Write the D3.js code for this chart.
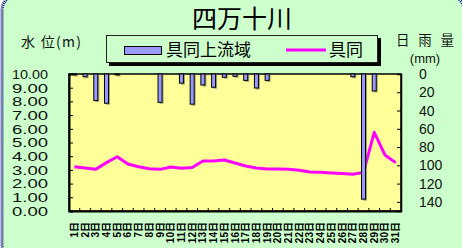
<!DOCTYPE html>
<html>
<head>
<meta charset="utf-8">
<script src="https://cdn.jsdelivr.net/npm/d3@7"></script>
<style>
  html, body { margin: 0; padding: 0; background: #fff; }
  svg { display: block; }
</style>
</head>
<body>
<div id="chart"></div>
<script>
// data
const days = ['1日', '2日', '3日', '4日', '5日', '6日', '7日', '8日', '9日', '10日',
  '11日', '12日', '13日', '14日', '15日', '16日', '17日', '18日', '19日', '20日',
  '21日', '22日', '23日', '24日', '25日', '26日', '27日', '28日', '29日', '30日', '31日'];
// 具同上流域 daily rainfall (mm)
const rain = [1, 3, 29, 32, 1, 0, 0, 0, 31, 0, 10, 33, 12, 14.5, 3.5, 2.5, 7, 15.3, 7, 0,
  0, 0, 0, 0, 0, 0, 3, 137, 18.6, 0, 0];
// 具同 water level (m)
const level = [3.23, 3.14, 3.04, 3.53, 3.96, 3.43, 3.23, 3.09, 3.04, 3.21, 3.12, 3.18, 3.65, 3.65, 3.72,
  3.5, 3.28, 3.14, 3.07, 3.07, 3.04, 2.98, 2.85, 2.82, 2.77, 2.73, 2.68, 2.82, 5.74, 4.09, 3.53];
const levelTicks = [0, 1, 2, 3, 4, 5, 6, 7, 8, 9, 10];
const rainTicks = [0, 20, 40, 60, 80, 100, 120, 140];

const title = '四万十川';
const leftTitle = '水 位(m)';
const rightTitle = '日 雨 量';
const rightUnit = '(mm)';
const legendNames = ['具同上流域', '具同'];

const W = 462, H = 248;
const plot = {left: 69, right: 401, top: 74, bottom: 211};
const numFont = '"Liberation Sans", Arial, "Noto Sans CJK JP", sans-serif';
const jpFont = '"Noto Sans CJK JP", "Noto Sans CJK SC", sans-serif';

const svg = d3.select('#chart').append('svg')
  .attr('width', W)
  .attr('height', H);

// background + frame
svg.append('rect')
  .attr('x', 2).attr('y', -4)
  .attr('width', 462).attr('height', 262)
  .attr('rx', 14)
  .attr('fill', '#ccffcc')
  .attr('stroke', '#000080')
  .attr('stroke-width', 3)
  .attr('stroke-dasharray', '1 1');

// scales
const x = d3.scaleBand().domain(days).range([plot.left, plot.right]);
const yL = d3.scaleLinear().domain([0, 10]).range([plot.bottom, plot.top]);
const yR = d3.scaleLinear().domain([0, 150]).range([plot.top, plot.bottom]);

// plot area
svg.append('rect')
  .attr('x', plot.left).attr('y', plot.top)
  .attr('width', plot.right - plot.left).attr('height', plot.bottom - plot.top)
  .attr('fill', '#ffff99')
  .attr('stroke', '#000')
  .attr('stroke-width', 1.5);

// left axis (ticks inside)
const gL = svg.append('g')
  .attr('transform', `translate(${plot.left},0)`)
  .call(d3.axisLeft(yL).tickValues(levelTicks).tickSize(-4).tickPadding(21)
    .tickFormat(d => d3.format('.2f')(d)));
gL.select('.domain').attr('stroke', '#000').attr('stroke-width', 2);
gL.selectAll('.tick line').attr('stroke', '#000');
gL.selectAll('.tick text')
  .attr('font-family', numFont).attr('font-size', 13.5).attr('fill', '#111')
  .attr('textLength', 36).attr('lengthAdjust', 'spacingAndGlyphs');

// right axis (ticks inside)
const gR = svg.append('g')
  .attr('transform', `translate(${plot.right},0)`)
  .call(d3.axisRight(yR).tickValues(rainTicks).tickSize(-4).tickPadding(18));
gR.select('.domain').attr('stroke', '#000').attr('stroke-width', 1.5);
gR.selectAll('.tick line').attr('stroke', '#000');
gR.selectAll('.tick text')
  .attr('font-family', numFont).attr('font-size', 14).attr('fill', '#111');

// bottom axis: ticks on category boundaries, pointing up
const gB = svg.append('g')
  .attr('transform', `translate(0,${plot.bottom})`)
  .call(d3.axisBottom(x).tickSize(0).tickPadding(0));
gB.select('.domain').attr('stroke', '#000').attr('stroke-width', 2);
gB.selectAll('.tick line').remove();
gB.selectAll('.bound')
  .data(days.slice(1))
  .enter().append('line')
  .attr('x1', d => x(d)).attr('x2', d => x(d))
  .attr('y1', 0).attr('y2', -3)
  .attr('stroke', '#000');
gB.selectAll('.tick text')
  .attr('font-family', numFont)
  .attr('font-size', 10)
  .attr('font-weight', 'bold')
  .attr('fill', '#000')
  .attr('text-anchor', 'end')
  .attr('dy', '0.35em')
  .attr('transform', 'translate(0,11) rotate(-90)');

// water level line
const line = d3.line()
  .x((d, i) => x(days[i]) + x.bandwidth() / 2)
  .y(d => yL(d));
svg.append('path')
  .datum(level)
  .attr('d', line)
  .attr('fill', 'none')
  .attr('stroke', '#ff00ff')
  .attr('stroke-width', 3)
  .attr('stroke-linejoin', 'round');

// rainfall bars hanging from the top
const barW = 4;
const bars = svg.append('g');
rain.forEach((v, i) => {
  if (v <= 0) { return; }
  const cx = x(days[i]) + x.bandwidth() / 2;
  bars.append('rect')
    .attr('x', cx - barW / 2 + 1.5).attr('y', yR(0))
    .attr('width', barW).attr('height', yR(v) - yR(0) + 1.5)
    .attr('fill', '#555').attr('opacity', 0.55);
  bars.append('rect')
    .attr('x', cx - barW / 2).attr('y', yR(0))
    .attr('width', barW).attr('height', yR(v) - yR(0))
    .attr('fill', '#9999ff')
    .attr('stroke', '#000')
    .attr('stroke-width', 1);
});

// title
svg.append('text')
  .attr('x', 242).attr('y', 28)
  .attr('text-anchor', 'middle')
  .attr('font-family', jpFont)
  .attr('font-size', 25)
  .attr('fill', '#000')
  .text(title);

// axis titles
svg.append('text')
  .attr('x', 21).attr('y', 47)
  .attr('font-family', jpFont).attr('font-size', 14).attr('fill', '#111')
  .attr('textLength', 60).attr('lengthAdjust', 'spacing')
  .text(leftTitle);
svg.append('text')
  .attr('x', 396).attr('y', 45)
  .attr('font-family', jpFont).attr('font-size', 13.5).attr('fill', '#111')
  .attr('textLength', 58).attr('lengthAdjust', 'spacing')
  .text(rightTitle);
svg.append('text')
  .attr('x', 425).attr('y', 63)
  .attr('text-anchor', 'middle')
  .attr('font-family', numFont).attr('font-size', 13).attr('fill', '#111')
  .text(rightUnit);

// legend
const lg = svg.append('g');
lg.append('rect')
  .attr('x', 109).attr('y', 38).attr('width', 272).attr('height', 28)
  .attr('fill', '#000');
lg.append('rect')
  .attr('x', 106.5).attr('y', 35.5).attr('width', 271).attr('height', 27)
  .attr('fill', '#ccffcc').attr('stroke', '#222').attr('stroke-width', 1);
lg.append('rect')
  .attr('x', 124.5).attr('y', 46.5).attr('width', 37).attr('height', 8)
  .attr('fill', '#9999ff').attr('stroke', '#000').attr('stroke-width', 1);
lg.append('text')
  .attr('x', 166).attr('y', 56)
  .attr('font-family', jpFont).attr('font-size', 17).attr('fill', '#000')
  .text(legendNames[0]);
lg.append('line')
  .attr('x1', 286).attr('x2', 326).attr('y1', 50).attr('y2', 50)
  .attr('stroke', '#ff00ff').attr('stroke-width', 3);
lg.append('text')
  .attr('x', 329).attr('y', 56)
  .attr('font-family', jpFont).attr('font-size', 17).attr('fill', '#000')
  .text(legendNames[1]);
</script>
</body>
</html>
